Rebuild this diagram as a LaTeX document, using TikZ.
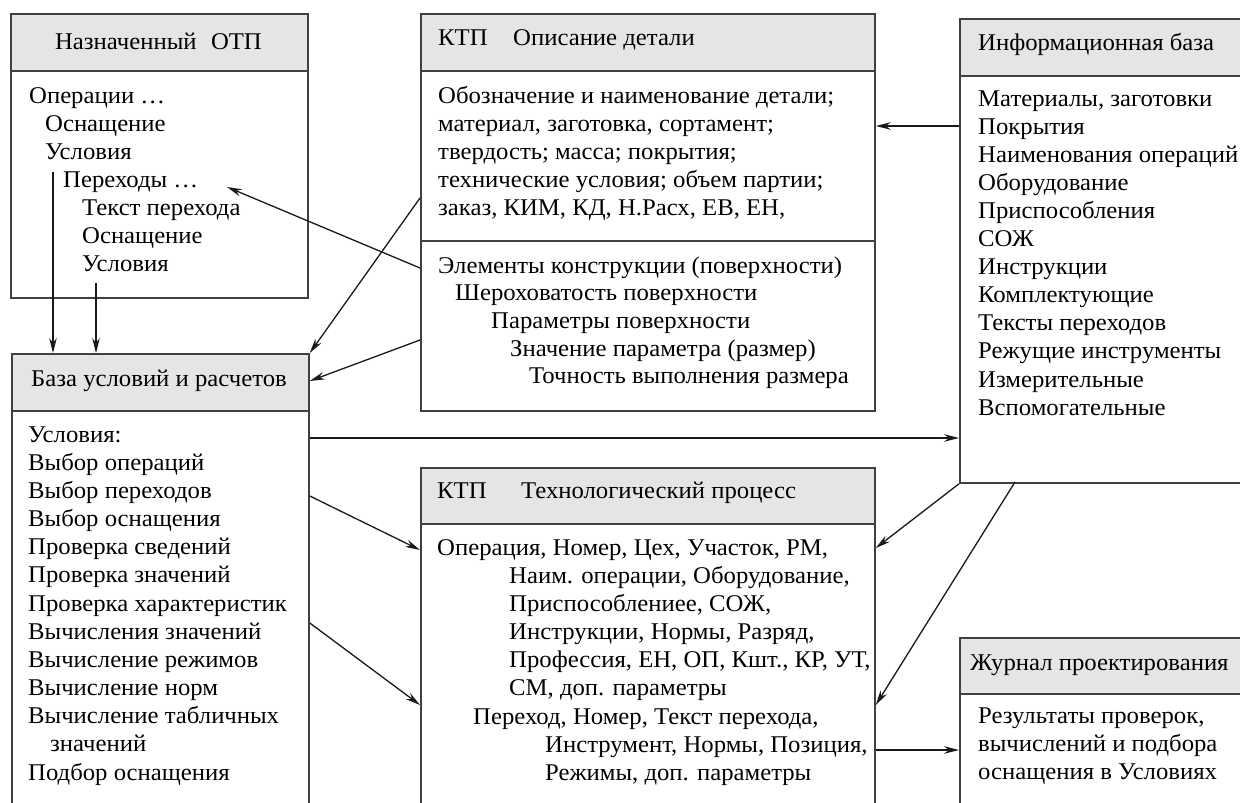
\documentclass[tikz,border=0pt]{standalone}
\usepackage{fontspec}
\setmainfont{Liberation Serif}
\newfontfamily\lserif{Liberation Serif}[FakeStretch=1.03]
\usetikzlibrary{arrows.meta}
\begin{document}
\begin{tikzpicture}[x=1pt,y=-1pt,
  boxst/.style={draw=black!75, line width=1.8pt, rectangle, inner sep=0pt, anchor=north west, fill=white},
  hdrst/.style={draw=black!75, line width=1.8pt, rectangle, inner sep=0pt, anchor=north west, fill=black!10},
  txt/.style={anchor=base west, inner sep=0pt, font=\lserif\fontsize{24}{28}\selectfont},
  ctxt/.style={txt, anchor=base},
  arr/.style={draw=black!90, line width=1.3pt, -{Stealth[length=15pt,width=7.5pt,inset=5pt]}}]
\useasboundingbox (0,0) rectangle (1240,803);
\clip (0,0) rectangle (1240,803);
\fill[white] (0,0) rectangle (1240,803);

% boxes
\node[boxst, minimum width=297pt, minimum height=284pt] (b1) at (10,13) {};
\node[hdrst, minimum width=297pt, minimum height=57pt] (b1h) at (10,13) {};

\node[boxst, minimum width=454pt, minimum height=397pt] (b2) at (420,13) {};
\node[hdrst, minimum width=454pt, minimum height=57pt] (b2h) at (420,13) {};
\node[boxst, minimum width=454pt, minimum height=170pt] (b2s) at (420,240) {};

\node[boxst, minimum width=320pt, minimum height=464pt] (b3) at (959,18) {};
\node[hdrst, minimum width=320pt, minimum height=57pt] (b3h) at (959,18) {};

\node[boxst, minimum width=297pt, minimum height=480pt] (b4) at (11,353) {};
\node[hdrst, minimum width=297pt, minimum height=57pt] (b4h) at (11,353) {};

\node[boxst, minimum width=454pt, minimum height=380pt] (b5) at (420,467) {};
\node[hdrst, minimum width=454pt, minimum height=56pt] (b5h) at (420,467) {};

\node[boxst, minimum width=320pt, minimum height=200pt] (b6) at (959,637) {};
\node[hdrst, minimum width=320pt, minimum height=56pt] (b6h) at (959,637) {};

% headers
\node[ctxt] (h1) at (158.5,49) {Назначенный\hspace{0.6em}ОТП};
\node[txt] (h2a) at (438,45) {КТП};
\node[txt] (h2b) at (513,45) {Описание детали};
\node[txt] (h3) at (978,50) {Информационная база};
\node[ctxt] (h4) at (159,386) {База условий и расчетов};
\node[txt] (h5a) at (437,498) {КТП};
\node[txt] (h5b) at (521,498) {Технологический процесс};
\node[txt] (h6) at (970,670) {Журнал проектирования};

% box 1 body
\node[txt] (t1a) at (29,103) {Операции …};
\node[txt] (t1b) at (45,131) {Оснащение};
\node[txt] (t1c) at (45,159) {Условия};
\node[txt] (t1d) at (63,187) {Переходы …};
\node[txt] (t1e) at (82,215) {Текст перехода};
\node[txt] (t1f) at (82,243) {Оснащение};
\node[txt] (t1g) at (82,271) {Условия};

% box 2 body
\node[txt] (t2a) at (438,103) {Обозначение и наименование детали;};
\node[txt] (t2b) at (438,131) {материал, заготовка, сортамент;};
\node[txt] (t2c) at (438,159) {твердость; масса; покрытия;};
\node[txt] (t2d) at (438,187) {технические условия; объем партии;};
\node[txt] (t2e) at (438,215) {заказ, КИМ, КД, Н.Расх, ЕВ, ЕН,};
\node[txt] (t2f) at (438,273) {Элементы конструкции (поверхности)};
\node[txt] (t2g) at (455,300) {Шероховатость поверхности};
\node[txt] (t2h) at (491,328) {Параметры поверхности};
\node[txt] (t2i) at (510,356) {Значение параметра (размер)};
\node[txt] (t2j) at (529,383) {Точность выполнения размера};

% box 3 body
\foreach \t [count=\i] in {{Материалы, заготовки},Покрытия,Наименования операций,Оборудование,Приспособления,СОЖ,Инструкции,Комплектующие,Тексты переходов,Режущие инструменты,Измерительные,Вспомогательные}
  \node[txt] (t3-\i) at (978,{106+28.1*(\i-1)}) {\t};

% box 4 body
\foreach \t [count=\i] in {Условия:,Выбор операций,Выбор переходов,Выбор оснащения,Проверка сведений,Проверка значений,Проверка характеристик,Вычисления значений,Вычисление режимов,Вычисление норм,Вычисление табличных,\hspace*{22pt}значений,Подбор оснащения}
  \node[txt] (t4-\i) at (28,{442+28.17*(\i-1)}) {\t};

% box 5 body
\node[txt] (t5a) at (437,555) {Операция, Номер, Цех, Участок, РМ,};
\node[txt] (t5b) at (509,583) {Наим. операции, Оборудование,};
\node[txt] (t5c) at (509,611) {Приспособлениее, СОЖ,};
\node[txt] (t5d) at (509,639) {Инструкции, Нормы, Разряд,};
\node[txt] (t5e) at (509,667) {Профессия, ЕН, ОП, Кшт., КР, УТ,};
\node[txt] (t5f) at (509,695) {СМ, доп. параметры};
\node[txt] (t5g) at (473,724) {Переход, Номер, Текст перехода,};
\node[txt] (t5h) at (545,752) {Инструмент, Нормы, Позиция,};
\node[txt] (t5i) at (545,780) {Режимы, доп. параметры};

% box 6 body
\node[txt] (t6a) at (978,723) {Результаты проверок,};
\node[txt] (t6b) at (978,751) {вычислений и подбора};
\node[txt] (t6c) at (978,779) {оснащения в Условиях};

% connectors
\coordinate (c1) at (53,172);
\coordinate (c2) at (96,283);
\coordinate (c3) at (227,187);
\coordinate (c4) at (1015,482);
\draw[arr] (c1) -- (c1 |- b4.north);
\draw[arr] (c2) -- (c2 |- b4.north);
\draw[arr] (b2.west |- 0,198) -- (b4.north east);
\draw[arr] (b2s.west |- 0,268) -- (c3);
\draw[arr] (b2s.west |- 0,340) -- (b4.east |- 0,381);
\draw[arr] (b3.west |- 0,126) -- (b2.east |- 0,126);
\draw[arr] (b4.east |- 0,438) -- (b3.west |- 0,438);
\draw[arr] (b4.east |- 0,496) -- (b5.west |- 0,550);
\draw[arr] (b4.east |- 0,623) -- (b5.west |- 0,705);
\draw[arr] (b3.south west) -- (b5.east |- 0,548);
\draw[arr] (c4) -- (b5.east |- 0,705);
\draw[arr] (b5.east |- 0,750) -- (b6.west |- 0,750);
\end{tikzpicture}
\end{document}
